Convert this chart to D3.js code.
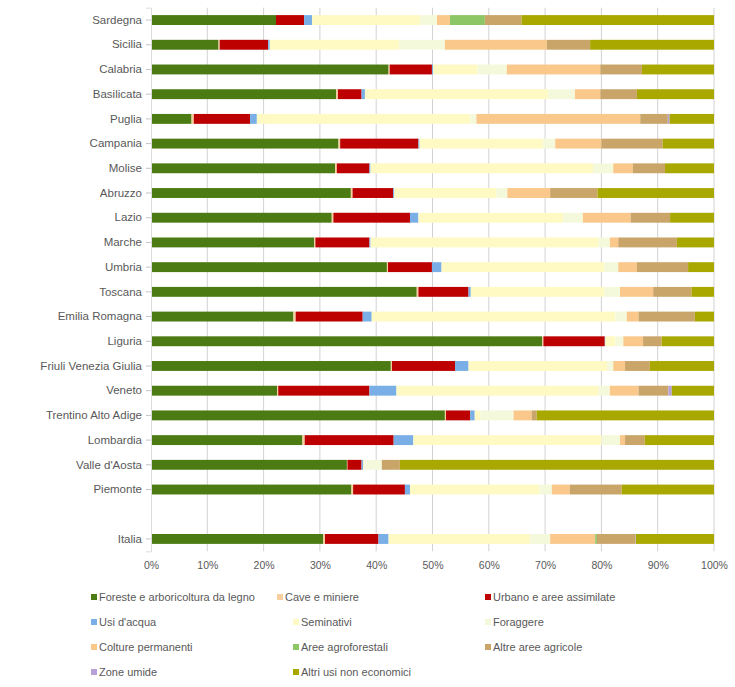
<!DOCTYPE html>
<html>
<head>
<meta charset="utf-8">
<script src="https://cdn.jsdelivr.net/npm/d3@7"></script>
<style>
  body { margin: 0; background: #fff; }
  text { font-family: "Liberation Sans", Arial, sans-serif; }
</style>
</head>
<body>
<svg id="chart" width="735" height="687"></svg>
<script>
// Regions, top to bottom ("" is the gap before the national total)
const regions = ["Sardegna", "Sicilia", "Calabria", "Basilicata", "Puglia", "Campania", "Molise",
  "Abruzzo", "Lazio", "Marche", "Umbria", "Toscana", "Emilia Romagna", "Liguria",
  "Friuli Venezia Giulia", "Veneto", "Trentino Alto Adige", "Lombardia", "Valle d'Aosta",
  "Piemonte", "", "Italia"];

const seriesNames = ["Foreste e arboricoltura da legno", "Cave e miniere", "Urbano e aree assimilate",
  "Usi d'acqua", "Seminativi", "Foraggere", "Colture permanenti", "Aree agroforestali",
  "Altre aree agricole", "Zone umide", "Altri usi non economici"];

const seriesColors = ["#4b7b12", "#f9cf9f", "#bd0000", "#79afe6", "#fff9c4", "#f5f9dc",
  "#f9c88a", "#8dc765", "#c9a56a", "#b6a2d8", "#a9a800"];

// Share of land use (%) per region, same order as `regions` (null for the gap row)
const foreste   = [22.2, 12.0, 42.2, 32.9,  7.2, 33.3, 32.7, 35.5, 32.1, 29.0, 41.9, 47.2, 25.3, 69.5, 42.6, 22.4, 52.2, 26.9, 34.8, 35.6, null, 30.6];
const cave      = [ 0.0,  0.2,  0.2,  0.3,  0.4,  0.3,  0.3,  0.3,  0.3,  0.2,  0.2,  0.3,  0.4,  0.2,  0.2,  0.2,  0.2,  0.4,  0.1,  0.3, null,  0.3];
const urbano    = [ 5.0,  8.6,  7.5,  4.2, 10.0, 13.9,  5.8,  7.2, 13.6,  9.6,  7.8,  8.9, 11.9, 10.9, 11.2, 16.2,  4.3, 15.8,  2.5,  9.2, null,  9.5];
const acqua     = [ 1.4,  0.3,  0.2,  0.6,  1.2,  0.2,  0.2,  0.2,  1.5,  0.2,  1.7,  0.4,  1.6,  0.1,  2.4,  4.8,  0.8,  3.5,  0.3,  0.9, null,  1.8];
const seminativi= [19.2, 23.0,  7.9, 32.5, 37.9, 21.9, 39.5, 18.2, 25.7, 40.5, 28.9, 23.7, 43.3,  1.8, 24.6, 35.9,  1.0, 33.4,  0.2, 23.0, null, 25.1];
const foraggere = [ 3.0,  8.1,  5.2,  4.8,  1.1,  2.2,  3.6,  1.9,  3.5,  2.0,  2.5,  2.8,  2.0,  1.4,  1.1,  2.0,  5.9,  3.3,  3.1,  2.2, null,  3.6];
const colture   = [ 2.3, 18.1, 16.6,  4.5, 29.1,  8.2,  3.5,  7.6,  8.5,  1.5,  3.3,  5.9,  2.1,  3.5,  2.1,  5.1,  3.2,  0.9,  0.0,  3.2, null,  8.0];
const agrofor   = [ 6.2,  0.0,  0.0,  0.0,  0.0,  0.0,  0.0,  0.0,  0.0,  0.0,  0.0,  0.0,  0.0,  0.0,  0.0,  0.0,  0.0,  0.0,  0.0,  0.0, null,  0.3];
const altreAgr  = [ 6.5,  7.7,  7.4,  6.5,  4.9, 10.9,  5.7,  8.4,  7.0, 10.4,  9.1,  6.8, 10.0,  3.3,  4.4,  5.3,  0.9,  3.5,  3.2,  9.2, null,  6.8];
const umide     = [ 0.0,  0.0,  0.0,  0.0,  0.3,  0.0,  0.0,  0.0,  0.0,  0.0,  0.0,  0.0,  0.0,  0.0,  0.0,  0.6,  0.0,  0.0,  0.0,  0.0, null,  0.1];
const altriUsi  = [34.2, 22.0, 12.8, 13.7,  7.9,  9.1,  8.7, 20.7,  7.8,  6.6,  4.6,  4.0,  3.4,  9.3, 11.4,  7.5, 31.5, 12.3, 55.8, 16.4, null, 13.9];

const tickLabels = ["0%", "10%", "20%", "30%", "40%", "50%", "60%", "70%", "80%", "90%", "100%"];

const seriesValues = [foreste, cave, urbano, acqua, seminativi, foraggere, colture,
  agrofor, altreAgr, umide, altriUsi];

// Table for d3.stack: one record per region, one key per land use
const table = regions.map((r, i) => {
  const row = { region: r };
  seriesNames.forEach((s, k) => { row[s] = seriesValues[k][i] || 0; });
  return row;
});

const svg = d3.select("#chart");
const margin = { left: 151, right: 21, top: 7.7, bottom: 135.7 };
const W = 735, H = 687;

const x = d3.scaleLinear().domain([0, 100]).range([margin.left, W - margin.right]);
const y = d3.scaleBand().domain(regions.map((r, i) => i))
  .range([margin.top, H - margin.bottom]).paddingInner(0.6).paddingOuter(0.3);
const color = d3.scaleOrdinal().domain(seriesNames).range(seriesColors);

// Vertical gridlines
svg.append("g")
  .selectAll("line")
  .data(d3.range(10, 101, 10))
  .join("line")
  .attr("x1", d => x(d)).attr("x2", d => x(d))
  .attr("y1", margin.top).attr("y2", H - margin.bottom)
  .attr("stroke", "#d2d2d2").attr("stroke-width", 1);

// Stacked bars
const stacked = d3.stack().keys(seriesNames)(table);
svg.append("g")
  .selectAll("g")
  .data(stacked)
  .join("g")
  .attr("fill", d => color(d.key))
  .selectAll("rect")
  .data(d => d.map((v, i) => ({ v, i })).filter(o => regions[o.i] !== ""))
  .join("rect")
  .attr("x", o => x(o.v[0]))
  .attr("width", o => Math.max(0, x(o.v[1]) - x(o.v[0])))
  .attr("y", o => y(o.i))
  .attr("height", y.bandwidth());

// Category axis (left)
const yAxis = d3.axisLeft(y)
  .tickFormat(i => regions[i])
  .tickSize(5).tickPadding(4);
const gy = svg.append("g")
  .attr("transform", `translate(${margin.left},0)`)
  .call(yAxis);
gy.select(".domain").attr("stroke", "#dcdcdc");
gy.selectAll(".tick line").attr("stroke", "#c4c4c4");
gy.selectAll(".tick").filter(i => regions[i] === "").remove();
gy.selectAll("text").attr("fill", "#595959").style("font-size", "11.5px");

// Percentage axis (bottom)
const xAxis = d3.axisBottom(x)
  .tickValues(d3.range(0, 101, 10))
  .tickFormat((d, i) => tickLabels[i])
  .tickSize(0).tickPadding(10);
const gx = svg.append("g")
  .attr("transform", `translate(0,${H - margin.bottom})`)
  .call(xAxis);
gx.select(".domain").remove();
gx.selectAll("text").attr("fill", "#595959").style("font-size", "10.5px");

// Legend: three columns, four rows
const legendCols = [91, 293, 485];
const legendRows = [597, 622, 647, 672];
const legend = svg.append("g");
seriesNames.forEach((name, k) => {
  const r = Math.floor(k / 3), c = k % 3;
  let lx = legendCols[c];
  if (k === 1) lx = 277;
  const ly = legendRows[r];
  const g = legend.append("g").attr("transform", `translate(${lx},${ly})`);
  g.append("rect").attr("x", 0).attr("y", -3).attr("width", 6).attr("height", 6)
    .attr("fill", color(name));
  g.append("text").attr("x", 8).attr("y", 0).attr("dy", "0.35em")
    .attr("fill", "#595959").style("font-size", "11px").text(name);
});
</script>
</body>
</html>
